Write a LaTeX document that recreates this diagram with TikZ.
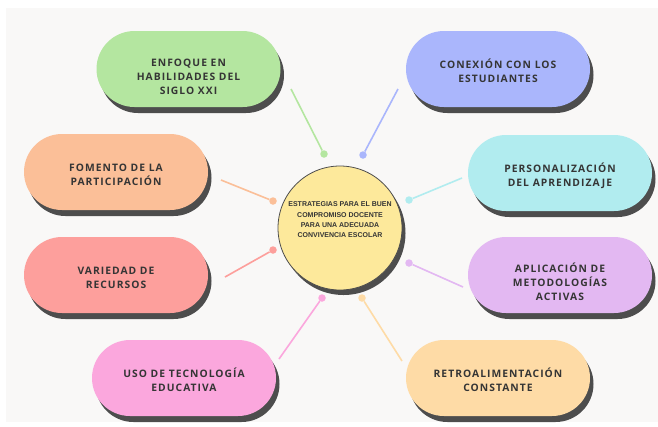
\documentclass[tikz,border=0pt]{standalone}
\usepackage{fontspec}
\setmainfont{Liberation Sans}
\newfontfamily\pillfont[LetterSpace=10]{Open Sans}
\usepackage{tikz}
\usetikzlibrary{shadows}

\definecolor{bgcol}{HTML}{F9F8F7}
\definecolor{shadowcol}{HTML}{4D4D4D}
\definecolor{textcol}{HTML}{353535}
\definecolor{hubcol}{HTML}{FDE99B}
\definecolor{cgreen}{HTML}{B4E6A0}
\definecolor{corange}{HTML}{FBBF98}
\definecolor{cred}{HTML}{FD9F9C}
\definecolor{cpink}{HTML}{FBA7DD}
\definecolor{cblue}{HTML}{AAB6FC}
\definecolor{ccyan}{HTML}{B1ECEF}
\definecolor{cpurple}{HTML}{E3B8F2}
\definecolor{cpeach}{HTML}{FEDBA6}

\tikzset{
  pill/.style={rectangle, rounded corners=38pt, minimum width=184pt, minimum height=76pt,
    align=center, text=textcol, font=\pillfont\bfseries\fontsize{10.3}{14}\selectfont,
    text height=26pt, text depth=0pt,
    drop shadow={shadow xshift=3.5pt, shadow yshift=-6pt, fill=shadowcol, opacity=1}},
  threeline/.style={text height=51pt},
  hub/.style={circle, minimum size=124pt, inner sep=0pt, draw=shadowcol, line width=0.8pt,
    fill=hubcol, align=center, text=textcol, font=\bfseries\fontsize{7}{10.3}\selectfont,
    drop shadow={shadow xshift=3.5pt, shadow yshift=-5pt, fill=shadowcol, opacity=1}},
  dot/.style={circle, inner sep=0pt, minimum size=7.5pt},
  link/.style={line width=1.6pt},
}

\begin{document}
\begin{tikzpicture}[x=1pt,y=-1pt]
\useasboundingbox (0,0) rectangle (658,426);
\fill[bgcol] (6,8) rectangle (658,422);

% branches
\node[pill, threeline, fill=cgreen] (habilidades) at (188.5,69) {ENFOQUE EN\\HABILIDADES DEL\\SIGLO XXI};
\node[pill, fill=corange] (participacion) at (116,172) {FOMENTO DE LA\\PARTICIPACIÓN};
\node[pill, fill=cred] (recursos) at (116,275) {VARIEDAD DE\\RECURSOS};
\node[pill, fill=cpink] (tecnologia) at (184,378) {USO DE TECNOLOGÍA\\EDUCATIVA};
\node[pill, fill=cblue] (conexion) at (498,69) {CONEXIÓN CON LOS\\ESTUDIANTES};
\node[pill, fill=ccyan] (personalizacion) at (560,173) {PERSONALIZACIÓN\\DEL APRENDIZAJE};
\node[pill, threeline, fill=cpurple] (metodologias) at (560,275) {APLICACIÓN DE\\METODOLOGÍAS\\ACTIVAS};
\node[pill, fill=cpeach] (retro) at (498,378) {RETROALIMENTACIÓN\\CONSTANTE};

% centre
\node[hub] (centro) at (340,228) {ESTRATEGIAS PARA EL BUEN\\COMPROMISO DOCENTE\\PARA UNA ADECUADA\\CONVIVENCIA ESCOLAR\\[6pt]};

% connectors
\foreach \n/\col/\ax/\ay/\bx/\by in {
  hab/cgreen/291/89/324/154,
  con/cblue/398/89/363/155,
  par/corange/221/180/273/201,
  per/ccyan/462/178/409/200,
  rec/cred/225/277/273/250,
  met/cpurple/463/287/409/263,
  tec/cpink/279/359/322/298,
  ret/cpeach/402/361/362/298}
{
\coordinate (\n-a) at (\ax,\ay);
\node[dot, fill=\col] (\n-b) at (\bx,\by) {};
\draw[link, \col] (\n-a) -- (\n-b);
}
\end{tikzpicture}
\end{document}
